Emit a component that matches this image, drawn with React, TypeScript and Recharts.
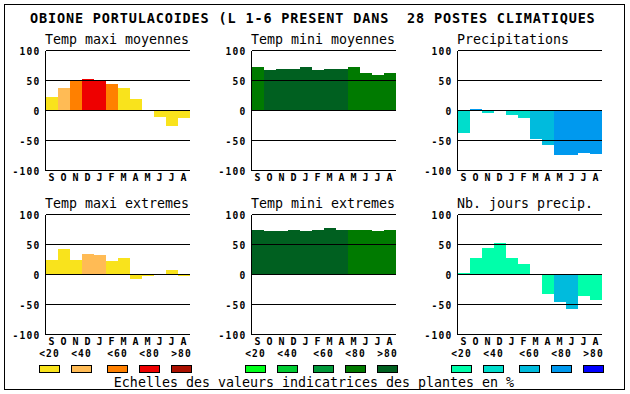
import React from "react"
import { BarChart, Bar, Cell, XAxis, YAxis, ReferenceLine } from "recharts"

const TITLE = "OBIONE PORTULACOIDES (L 1-6 PRESENT DANS  28 POSTES CLIMATIQUES"
const FOOTER = "Echelles des valeurs indicatrices des plantes en %"
const MONTHS = ["S", "O", "N", "D", "J", "F", "M", "A", "M", "J", "J", "A"]
const Y_TICKS = [-100, -50, 0, 50, 100]
const LEGEND_LABELS = ["<20", "<40", "<60", "<80", ">80"]

const WARM = ["#F9E31C", "#FFBB55", "#FF8000", "#EE0000", "#AA1000"]
const GREEN = ["#00FF1A", "#00CC33", "#00993A", "#007A00", "#006020"]
const BLUE = ["#00FFAA", "#00DDCC", "#00BBDD", "#0099EE", "#0000FF"]

// values per month (S..A), class = index into the palette
const tMaxMoy = [23, 37, 49, 52, 50, 45, 37, 20, 0, -11, -25, -13]
const tMaxMoyCls = [0, 1, 2, 3, 3, 2, 0, 0, 0, 0, 0, 0]

const tMinMoy = [73, 67, 70, 70, 72, 67, 70, 70, 72, 63, 60, 62]
const tMinMoyCls = [3, 4, 4, 4, 4, 4, 4, 4, 3, 3, 3, 3]

const precip = [-37, 2, -4, 0, -7, -12, -47, -57, -74, -74, -70, -72]
const precipCls = [1, 3, 1, 1, 1, 1, 2, 2, 3, 3, 3, 3]

const tMaxExt = [25, 42, 25, 35, 32, 23, 27, -8, -3, 0, 7, -3]
const tMaxExtCls = [0, 0, 0, 1, 1, 0, 0, 0, 0, 0, 0, 0]

const tMinExt = [75, 72, 73, 75, 73, 75, 77, 75, 75, 75, 73, 75]
const tMinExtCls = [4, 4, 4, 4, 4, 4, 4, 4, 3, 3, 3, 3]

const joursPrecip = [2, 27, 45, 52, 27, 17, 0, -32, -45, -57, -35, -43]
const joursPrecipCls = [0, 0, 0, 0, 0, 0, 0, 0, 2, 2, 0, 0]

const PANELS = [
  { title: "Temp maxi moyennes", values: tMaxMoy, classes: tMaxMoyCls, palette: WARM, col: 0, row: 0 },
  { title: "Temp mini moyennes", values: tMinMoy, classes: tMinMoyCls, palette: GREEN, col: 1, row: 0 },
  { title: "Precipitations", values: precip, classes: precipCls, palette: BLUE, col: 2, row: 0 },
  { title: "Temp maxi extremes", values: tMaxExt, classes: tMaxExtCls, palette: WARM, col: 0, row: 1 },
  { title: "Temp mini extremes", values: tMinExt, classes: tMinExtCls, palette: GREEN, col: 1, row: 1 },
  { title: "Nb. jours precip.", values: joursPrecip, classes: joursPrecipCls, palette: BLUE, col: 2, row: 1 },
]

const FONT = "'DejaVu Sans Mono', monospace"
const plotLeft = (col: number) => 45 + 206 * col
const plotTop = (row: number) => 50 + 164 * row
const legendOffsets = [-6, 26, 62, 94, 126]

const YTick = (props: any) => (
  <text x={props.x} y={props.y + 4.3} textAnchor="end" fontFamily={FONT} fontSize={9.6}
    fontWeight="bold" letterSpacing={1.2} fill="#000">
    {props.payload.value}
  </text>
)

const XTick = (props: any) => (
  <text x={props.x} y={props.y + 10.5} textAnchor="middle" fontFamily={FONT} fontSize={10}
    fontWeight="bold" fill="#000">
    {MONTHS[props.payload.value]}
  </text>
)

function Panel({ values, classes, palette, col, row }: any) {
  const data = values.map((v: number, i: number) => ({ id: i, value: v }))
  return (
    <div style={{ position: "absolute", left: plotLeft(col) - 45, top: plotTop(row) - 10, width: 194, height: 160 }}>
      <BarChart width={194} height={160} data={data} barCategoryGap={0} barGap={0}
        margin={{ top: 10.5, right: 4.5, bottom: 9.5, left: 0.5 }}>
        <Bar dataKey="value" isAnimationActive={false}>
          {data.map((d: any, i: number) => (
            <Cell key={d.id} fill={palette[classes[i]]} />
          ))}
        </Bar>
        <ReferenceLine y={100} stroke="#000" />
        <ReferenceLine y={50} stroke="#000" />
        <ReferenceLine y={0} stroke="#000" />
        <ReferenceLine y={-50} stroke="#000" />
        <XAxis dataKey="id" interval={0} height={20} tickSize={0} tickMargin={0} tickLine={false}
          axisLine={{ stroke: "#000" }} tick={XTick} />
        <YAxis domain={[-100, 100]} ticks={Y_TICKS} width={45} tickSize={0} tickMargin={5}
          tickLine={false} axisLine={{ stroke: "#000" }} tick={YTick} />
        <YAxis yAxisId="r" orientation="right" domain={[-100, 100]} width={0} tick={false}
          tickLine={false} axisLine={{ stroke: "#000" }} />
      </BarChart>
    </div>
  )
}

export default function App() {
  return (
    <div style={{ position: "absolute", left: 0, top: 0, width: 630, height: 394, background: "#fff",
      overflow: "hidden", shapeRendering: "crispEdges", fontFamily: FONT }}>
      {PANELS.map((p) => (
        <Panel key={p.title} {...p} />
      ))}
      <svg width={630} height={394} style={{ position: "absolute", left: 0, top: 0, pointerEvents: "none" }}>
        <rect x={4.5} y={4.5} width={620} height={385} fill="none" stroke="#000" />
        <text x={30} y={23} fontFamily={FONT} fontSize={13.5} fontWeight="bold" letterSpacing={0.85}
          style={{ whiteSpace: "pre" }} fill="#000">
          {TITLE}
        </text>
        {PANELS.map((p) => (
          <text key={p.title} x={plotLeft(p.col)} y={plotTop(p.row) - 6.5} fontFamily={FONT}
            fontSize={13.3} fill="#000">
            {p.title}
          </text>
        ))}
        {[WARM, GREEN, BLUE].map((pal, c) =>
          pal.map((color, k) => {
            const x = plotLeft(c) + legendOffsets[k]
            return (
              <g key={`${c}-${k}`}>
                <text x={x + 10.6} y={357} textAnchor="middle" fontFamily={FONT} fontSize={9.6}
                  fontWeight="bold" letterSpacing={1.2} fill="#000">
                  {LEGEND_LABELS[k]}
                </text>
                <rect x={x + 0.5} y={365.5} width={20} height={7} fill={color} stroke="#000" />
              </g>
            )
          })
        )}
        <text x={314} y={387} textAnchor="middle" fontFamily={FONT} fontSize={13.3} fill="#000">
          {FOOTER}
        </text>
      </svg>
    </div>
  )
}
